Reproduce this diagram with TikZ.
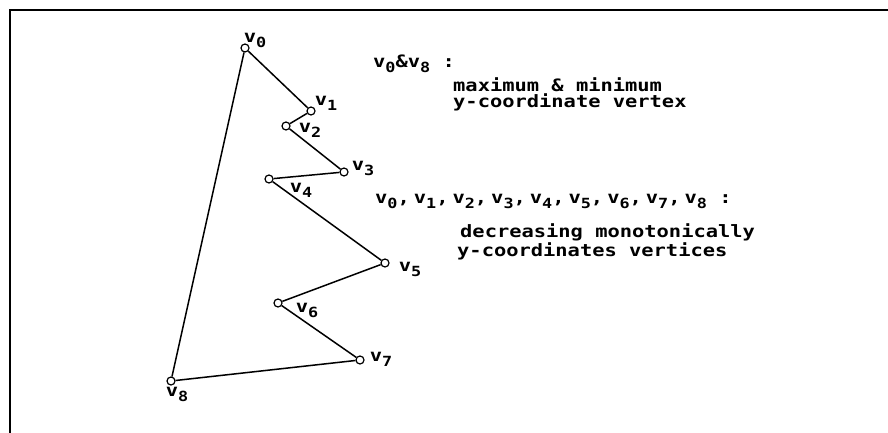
\documentclass[tikz,border=0pt]{standalone}
\usepackage{fontspec}
\usepackage{graphicx}
\newfontfamily\pixfont[FakeStretch=1.2]{DejaVu Sans Mono}
\newcommand\vx[1]{v\raisebox{-5pt}{\fontsize{14}{14}\selectfont#1}}

\begin{document}
\begin{tikzpicture}[x=1pt, y=-1pt,
    font=\pixfont\bfseries\fontsize{17}{17}\selectfont,
    vert/.style={circle, draw, fill=white, line width=1.2pt, minimum size=8pt, inner sep=0pt},
    vlab/.style={inner sep=0pt},
    note/.style={inner sep=0pt, anchor=base west},
    edge/.style={line width=1.5pt}]

  \useasboundingbox (0,0) rectangle (888,433);

  % frame, only top and left sides are visible
  \draw[line width=2.2pt] (10,433) -- (10,10) -- (888,10);

  % vertices and their labels
  \foreach \i/\px/\py/\lx/\ly in {0/245/48/255/40, 1/311/111/326/103, 2/286/126/310/130,
      3/344/172/363/168, 4/269/179/301/190, 5/385/263/410/269, 6/278/303/307/310,
      7/360/360/381/359, 8/171/381/177/394}
  {
    \node[vert] (v\i) at (\px,\py) {};
    \node[vlab] (lv\i) at (\lx,\ly) {\vx{\i}};
  }

  \draw[edge] (v0) -- (v1) -- (v2) -- (v3) -- (v4) -- (v5) -- (v6) -- (v7) -- (v8) -- (v0);

  % notes on the right (base of a two-line note = last line)
  \node[note] (head1) at (373,68) {\vx0\&\vx8 :};
  \node[note, align=left, font=\pixfont\bfseries\fontsize{17}{16.5}\selectfont] (maxmin) at (453,108)
    {maximum \& minimum\\y-coordinate vertex};

  \node[note] (head2) at (375,203) {\vx0,\kern4pt\vx1,\kern4pt\vx2,\kern4pt\vx3,\kern4pt\vx4,\kern4pt\vx5,\kern4pt\vx6,\kern4pt\vx7,\kern4pt\vx8 :};
  \node[note, align=left, font=\pixfont\bfseries\fontsize{17}{19}\selectfont] (decr) at (460,256)
    {decreasing monotonically\\\kern-3pt y-coordinates vertices};

\end{tikzpicture}
\end{document}
